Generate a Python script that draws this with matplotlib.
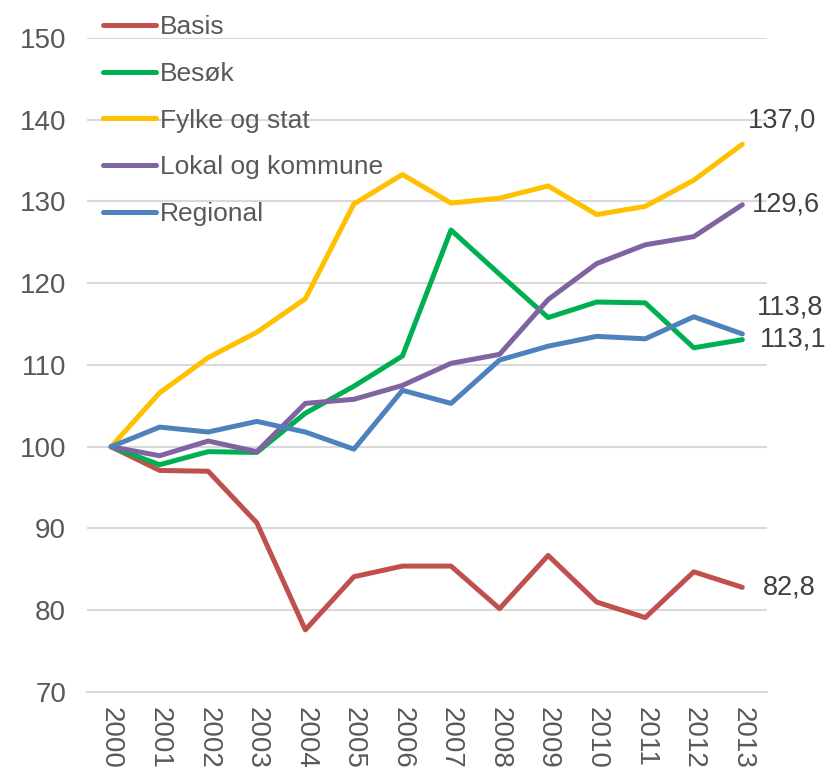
import matplotlib.pyplot as plt

plt.rcParams['font.family'] = ['Liberation Sans', 'DejaVu Sans']

years = ['2000', '2001', '2002', '2003', '2004', '2005', '2006',
         '2007', '2008', '2009', '2010', '2011', '2012', '2013']
basis = [100, 97.1, 97.0, 90.7, 77.6, 84.1, 85.4, 85.4, 80.2, 86.7, 81.0, 79.1, 84.7, 82.8]
besok = [100, 97.8, 99.4, 99.3, 104.1, 107.4, 111.1, 126.5, 121.1, 115.8, 117.7, 117.6, 112.1, 113.1]
fylke = [100, 106.6, 110.9, 114.0, 118.1, 129.7, 133.3, 129.8, 130.4, 131.9, 128.4, 129.4, 132.6, 137.0]
lokal = [100, 98.9, 100.7, 99.4, 105.3, 105.8, 107.5, 110.2, 111.3, 118.0, 122.4, 124.7, 125.7, 129.6]
regional = [100, 102.4, 101.8, 103.1, 101.8, 99.7, 106.9, 105.3, 110.6, 112.3, 113.5, 113.2, 115.9, 113.8]

series = [
    ('Basis', basis, '#C0504D'),
    ('Besøk', besok, '#00B050'),
    ('Fylke og stat', fylke, '#FFC000'),
    ('Lokal og kommune', lokal, '#8064A2'),
    ('Regional', regional, '#4F81BD'),
]
# end label offsets in pixels (dx, dy)
end_offsets = {'Basis': (21, 0), 'Besøk': (18, 0), 'Fylke og stat': (6, 24),
               'Lokal og kommune': (10, 0), 'Regional': (15, 26)}

fig = plt.figure(figsize=(8.27, 7.67), dpi=100)
ax = fig.add_axes([0.105, 0.0978, 0.822, 0.8527])

x = list(range(len(years)))
for name, vals, col in series:
    ax.plot(x, vals, color=col, lw=3.6, label=name,
            solid_capstyle='round', solid_joinstyle='round')
    dx, dy = end_offsets[name]
    ax.annotate(f'{vals[-1]:.1f}'.replace('.', ','), xy=(x[-1], vals[-1]),
                xytext=(dx, dy), textcoords='offset pixels',
                ha='left', va='center', fontsize=19.5, color='#404040',
                annotation_clip=False)

ax.set_xlim(-0.5, len(years) - 0.5)
ax.set_ylim(70, 150)
ax.set_yticks(range(70, 151, 10))
ax.set_xticks(x)
ax.set_xticklabels(years, rotation=270, va='top', ha='center')
ax.grid(axis='y', color='#D9D9D9', lw=1.5)
ax.set_axisbelow(True)
for s in ['top', 'right', 'left']:
    ax.spines[s].set_visible(False)
ax.spines['bottom'].set_color('#D9D9D9')
ax.spines['bottom'].set_linewidth(1.5)
ax.tick_params(axis='y', length=0, pad=15, labelsize=20, labelcolor='#595959')
ax.tick_params(axis='x', length=0, pad=11, labelsize=20, labelcolor='#595959')

leg = fig.legend(loc='upper left', bbox_to_anchor=(0.1245, 0.98), frameon=False,
                 fontsize=19, handlelength=2.0, handletextpad=0.15,
                 labelspacing=0.86, borderpad=0, borderaxespad=0)
for t in leg.get_texts():
    t.set_color('#595959')
for h in leg.legend_handles:
    h.set_linewidth(3.6)

fig.savefig('out.png', dpi=100)
